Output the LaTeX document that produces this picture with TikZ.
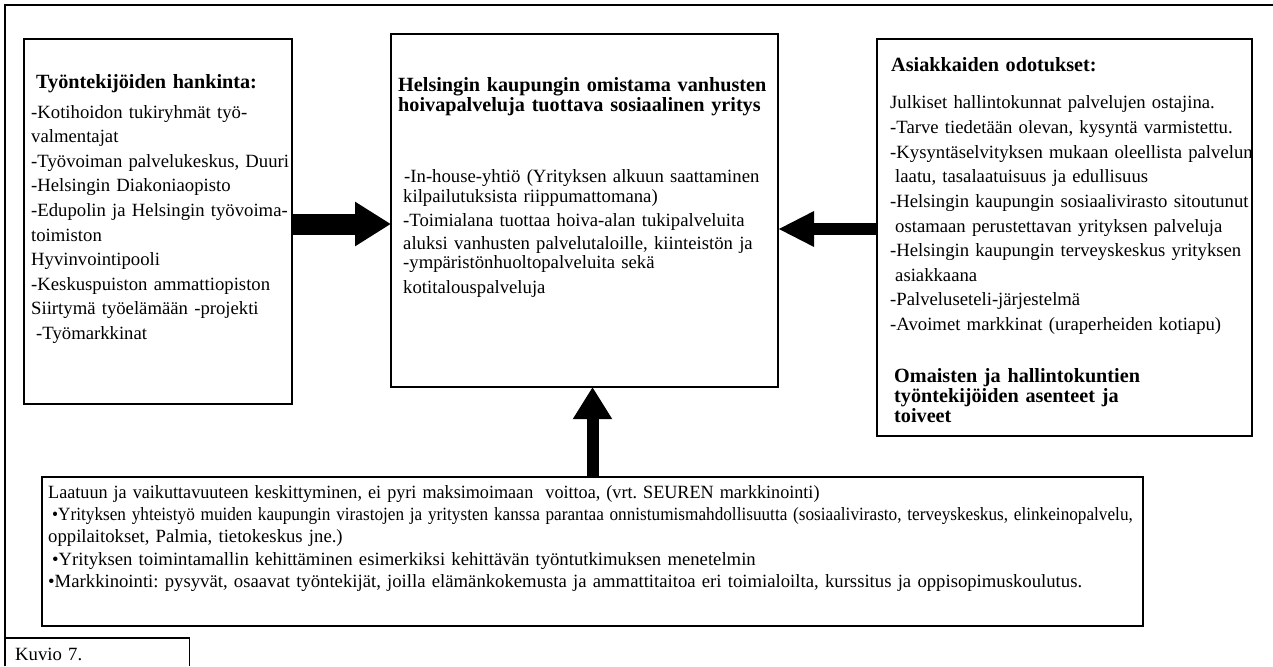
\documentclass[tikz,border=0pt]{standalone}
\usepackage{fontspec}
\usepackage{graphicx}
\setmainfont{Liberation Serif}
\usetikzlibrary{arrows.meta,positioning,calc}
\frenchspacing

\tikzset{
  box/.style={draw=black, line width=1.2pt, inner sep=0pt, outer sep=0pt, anchor=north west},
  otsikko/.style={anchor=base west, inner sep=0pt, align=left, text width=420pt,
    font=\bfseries\fontsize{20.2}{20}\selectfont},
  teksti/.style={anchor=base west, inner sep=0pt, align=left, text width=#1,
    font=\fontsize{18.7}{24.6}\selectfont},
  teksti/.default=420pt,
}

\begin{document}
\begin{tikzpicture}[x=1pt,y=-1pt]
		\useasboundingbox (0,0) rectangle (1273,666);
		\draw[line width=1.2pt] (5,638) -- (5,5) -- (1273,5);
		\node[box, minimum width=268pt, minimum height=365pt] (hankinta) at (24,39) {};
		\node[box, minimum width=387pt, minimum height=353pt] (yritys) at (391,34) {};
		\node[box, minimum width=375pt, minimum height=397pt] (odotukset) at (877,39) {};
		\node[box, minimum width=1101pt, minimum height=149pt] (laatu) at (42,477) {};
		\node[inner sep=0pt, minimum width=184pt, minimum height=28pt, anchor=north west] (kuvio) at (5,638) {};
		\draw[line width=1.2pt] (kuvio.south west) -- (kuvio.north west) -- (kuvio.north east) -- (kuvio.south east);
		\coordinate (hA) at ($(hankinta.east)+(0,2.5)$);
		\coordinate (oA) at ($(odotukset.west)+(0,-8.5)$);
		\draw[line width=21pt, -{Triangle[length=36pt,width=42pt]}] (hA) -- (hA -| yritys.west);
		\draw[line width=12pt, -{Triangle[length=36pt,width=33pt]}] (oA) -- (oA -| yritys.east);
		\draw[line width=12pt, -{Triangle[length=32pt,width=37pt]}] (laatu.north) -- (laatu.north |- yritys.south);
		\node[otsikko] (hankintaotsikko) at (36,89) {Työntekijöiden hankinta:};
		\node[teksti] (hankintateksti) at (31,118) {-Kotihoidon tukiryhmät työ-\\valmentajat\\-Työvoiman palvelukeskus, Duuri\\-Helsingin Diakoniaopisto\\-Edupolin ja Helsingin työvoima-\\toimiston\\Hyvinvointipooli\\-Keskuspuiston ammattiopiston\\Siirtymä työelämään -projekti\\\hspace*{5pt}-Työmarkkinat};
		\node[otsikko] (yritysotsikko) at (398,92) {Helsingin kaupungin omistama vanhusten\\hoivapalveluja tuottava sosiaalinen yritys};
		\node[teksti, font=\fontsize{18.7}{20}\selectfont] (yritysteksti) at (403,182) {\hspace*{1pt}-In-house-yhtiö (Yrityksen alkuun saattaminen\\kilpailutuksista riippumattomana)\\[4pt]-Toimialana tuottaa hoiva-alan tukipalveluita\\[3pt]aluksi vanhusten palvelutaloille, kiinteistön ja\\[-1pt]-ympäristönhuoltopalveluita sekä\\[5pt]kotitalouspalveluja};
		\node[otsikko] (odotuksetotsikko) at (891,72) {Asiakkaiden odotukset:};
		\node[teksti] (odotuksetteksti) at (890,109) {Julkiset hallintokunnat palvelujen ostajina.\\-Tarve tiedetään olevan, kysyntä varmistettu.\\-Kysyntäselvityksen mukaan oleellista palvelun\\\hspace*{5pt}laatu, tasalaatuisuus ja edullisuus\\-Helsingin kaupungin sosiaalivirasto sitoutunut\\\hspace*{5pt}ostamaan perustettavan yrityksen palveluja\\-Helsingin kaupungin terveyskeskus yrityksen\\\hspace*{5pt}asiakkaana\\-Palveluseteli-järjestelmä\\-Avoimet markkinat (uraperheiden kotiapu)};
		\node[otsikko] (asenteet) at (894,382) {Omaisten ja hallintokuntien\\työntekijöiden asenteet ja\\toiveet};
		\node[teksti=1300pt, font=\fontsize{18.7}{22}\selectfont] (laatuteksti) at (48,498) {\scalebox{0.97}[1]{Laatuun ja vaikuttavuuteen keskittyminen, ei pyri maksimoimaan\ \ voittoa, (vrt. SEUREN markkinointi)}\\\hspace*{4pt}\scalebox{0.92}[1]{•Yrityksen yhteistyö muiden kaupungin virastojen ja yritysten kanssa parantaa onnistumismahdollisuutta (sosiaalivirasto, terveyskeskus, elinkeinopalvelu,}\\oppilaitokset, Palmia, tietokeskus jne.)\\[1pt]\hspace*{4pt}•Yrityksen toimintamallin kehittäminen esimerkiksi kehittävän työntutkimuksen menetelmin\\•Markkinointi: pysyvät, osaavat työntekijät, joilla elämänkokemusta ja ammattitaitoa eri toimialoilta, kurssitus ja oppisopimuskoulutus.};
		\node[teksti] (kuvioteksti) at (15,660) {Kuvio 7.};
	\end{tikzpicture}
\end{document}
